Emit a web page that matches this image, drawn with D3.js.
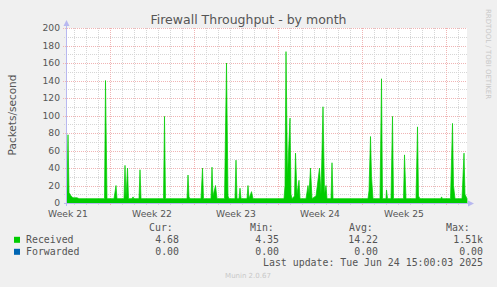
<!DOCTYPE html>
<html>
<head>
<meta charset="utf-8">
<script src="https://cdn.jsdelivr.net/npm/d3@7"></script>
<style>
  body { margin: 0; background: #f0f0f0; }
  svg { display: block; font-family: "DejaVu Sans", sans-serif; }
  .mono { font-family: "DejaVu Sans Mono", monospace; font-size: 9.9px; fill: #555; }
</style>
</head>
<body>
<svg id="chart" width="497" height="287"></svg>
<script>
// Chart values
const title = "Firewall Throughput - by month";
const yLabel = "Packets/second";
const yMax = 200;

// Time axis: graph window starts here and covers 800 hours (2 h per pixel)
const startTime = Date.UTC(2025, 4, 22, 10);
const spanHours = 800;

// Received packets/second, as [hours since start] and values
const hours = [0, 2, 4, 8, 12, 20, 24, 75, 77, 80, 94, 98, 100, 114, 116, 118, 121, 123,
  130, 132, 134, 144, 146, 148, 193, 195, 197, 240, 242, 244, 246, 268, 271, 273,
  288, 290, 292, 297, 300, 315, 319, 322, 324, 336, 338, 340, 344, 346, 348,
  360, 362, 364, 369, 372, 434, 436, 438, 441, 446, 448, 450, 455, 457, 460, 464, 466,
  478, 482, 484, 487, 490, 498, 505, 508, 512, 515, 518, 520, 528, 530, 532,
  602, 604, 607, 609, 612, 626, 629, 631, 638, 639, 641, 648, 651, 653,
  673, 675, 678, 698, 701, 703, 706, 748, 749, 751, 767, 771, 773, 776, 790, 794, 796, 800];
const received = [12, 78, 12, 8, 6, 6, 5, 5, 140, 5, 5, 20, 5, 5, 43, 6, 40, 5,
  5, 7, 5, 5, 38, 5, 5, 99, 5, 5, 32, 7, 5, 5, 40, 5,
  5, 41, 8, 20, 5, 5, 160, 8, 5, 5, 49, 5, 5, 17, 5,
  5, 20, 5, 13, 5, 5, 20, 173, 30, 97, 10, 5, 8, 57, 10, 26, 5,
  5, 20, 10, 40, 5, 8, 40, 10, 110, 10, 20, 5, 5, 46, 5,
  5, 14, 76, 30, 5, 5, 142, 5, 5, 15, 5, 5, 99, 5,
  5, 55, 5, 5, 87, 8, 5, 5, 7, 5, 5, 91, 20, 5, 5, 57, 10, 5];

// Legend
const seriesNames = ["Received", "Forwarded"];
const seriesColors = ["#00cc00", "#0066b3"];
const curValues = ["4.68", "0.00"];
const minValues = ["4.35", "0.00"];
const avgValues = ["14.22", "0.00"];
const maxValues = ["1.51k", "0.00"];
const lastUpdate = "Last update: Tue Jun 24 15:00:03 2025";
const version = "Munin 2.0.67";
const watermark = "RRDTOOL / TOBI OETIKER";

const HOUR = 3600e3;
const svg = d3.select("#chart");

const x = d3.scaleUtc()
  .domain([new Date(startTime), new Date(startTime + spanHours * HOUR)])
  .range([67, 467]);
const y = d3.scaleLinear().domain([0, yMax]).range([203, 28]);

// plot background
svg.append("rect")
  .attr("x", 67).attr("y", 28)
  .attr("width", 400).attr("height", 175)
  .attr("fill", "#fff");

const grid = svg.append("g").attr("shape-rendering", "crispEdges");
const [t0, t1] = x.domain();
const minorColor = "#d6d6d6", majorColor = "#f0b4b4";

// minor grid
grid.selectAll(".vmin")
  .data(d3.utcDay.range(t0, t1).filter(d => d.getUTCDay() !== 1))
  .join("line")
  .attr("x1", d => Math.round(x(d)) + 0.5).attr("x2", d => Math.round(x(d)) + 0.5)
  .attr("y1", 28).attr("y2", 205)
  .attr("stroke", minorColor).attr("stroke-dasharray", "1,1");
grid.selectAll(".hmin")
  .data(d3.range(10, yMax, 20))
  .join("line")
  .attr("x1", 64).attr("x2", 467)
  .attr("y1", d => Math.round(y(d)) + 0.5).attr("y2", d => Math.round(y(d)) + 0.5)
  .attr("stroke", minorColor).attr("stroke-dasharray", "1,1");

// major grid
grid.selectAll(".vmaj")
  .data(d3.utcMonday.range(t0, t1))
  .join("line")
  .attr("x1", d => Math.round(x(d)) + 0.5).attr("x2", d => Math.round(x(d)) + 0.5)
  .attr("y1", 28).attr("y2", 206)
  .attr("stroke", majorColor).attr("stroke-dasharray", "1,1");
grid.selectAll(".hmaj")
  .data(d3.range(20, yMax + 1, 20))
  .join("line")
  .attr("x1", 63).attr("x2", 467)
  .attr("y1", d => Math.round(y(d)) + 0.5).attr("y2", d => Math.round(y(d)) + 0.5)
  .attr("stroke", majorColor).attr("stroke-dasharray", "1,1");

// data area, with a thin outline so the narrow spikes stay visible
const points = hours.map((h, i) => ({ t: new Date(startTime + h * HOUR), v: received[i] }));
svg.append("path")
  .datum(points)
  .attr("fill", seriesColors[0])
  .attr("stroke", seriesColors[0])
  .attr("stroke-width", 0.7)
  .attr("stroke-linejoin", "miter")
  .attr("d", d3.area().x(d => x(d.t)).y0(y(0)).y1(d => y(d.v)));

// axes
const axisColor = "#b8b8f0";
svg.append("line").attr("x1", 66.5).attr("x2", 66.5).attr("y1", 24).attr("y2", 206)
  .attr("stroke", axisColor);
svg.append("line").attr("x1", 64).attr("x2", 469).attr("y1", 203.5).attr("y2", 203.5)
  .attr("stroke", axisColor);
svg.append("path").attr("d", "M63.5,26 L69.5,26 L66.5,20 Z").attr("fill", axisColor);
svg.append("path").attr("d", "M468,200.5 L468,206.5 L474,203.5 Z").attr("fill", axisColor);

// y tick labels
svg.append("g").selectAll("text")
  .data(d3.range(0, yMax + 1, 20))
  .join("text")
  .attr("x", 60).attr("y", d => y(d) + 3.0)
  .attr("text-anchor", "end")
  .attr("font-size", 9.2).attr("fill", "#555")
  .text(d => d);

// week labels, centred in each week
const weekFmt = d3.utcFormat("%V");
svg.append("g").selectAll("text")
  .data(d3.utcMonday.range(d3.utcMonday.offset(t0, -1), t1)
    .map(d => new Date(+d + 3.5 * 24 * HOUR))
    .filter(d => x(d) >= 66 && x(d) <= 467))
  .join("text")
  .attr("x", d => x(d)).attr("y", 216.5)
  .attr("text-anchor", "middle")
  .attr("font-size", 9.2).attr("fill", "#555")
  .text(d => "Week " + +weekFmt(new Date(+d - 3.5 * 24 * HOUR)));

// title and axis label
svg.append("text").attr("x", 248.5).attr("y", 24)
  .attr("text-anchor", "middle").attr("font-size", 12.5).attr("fill", "#555")
  .text(title);
svg.append("text")
  .attr("transform", "translate(16,115) rotate(-90)")
  .attr("text-anchor", "middle").attr("font-size", 10.5).attr("fill", "#555")
  .text(yLabel);
svg.append("text")
  .attr("transform", "translate(485.5,54) rotate(90)")
  .attr("text-anchor", "middle").attr("font-size", 7).attr("fill", "#c8c8c8")
  .text(watermark);

// legend
const headers = [["Cur:", 149], ["Min:", 250], ["Avg:", 349], ["Max:", 446]];
svg.append("g").selectAll("text")
  .data(headers)
  .join("text")
  .attr("class", "mono")
  .attr("x", d => d[1]).attr("y", 230.5)
  .text(d => d[0]);

const columns = [[curValues, 179], [minValues, 279], [avgValues, 378], [maxValues, 483]];
seriesNames.forEach((name, i) => {
  const rowY = 242.8 + i * 12;
  svg.append("rect")
    .attr("x", 14).attr("y", rowY - 6)
    .attr("width", 6).attr("height", 6)
    .attr("fill", seriesColors[i]);
  svg.append("text").attr("class", "mono")
    .attr("x", 26).attr("y", rowY).text(name);
  columns.forEach(([vals, right]) => {
    svg.append("text").attr("class", "mono")
      .attr("x", right).attr("y", rowY)
      .attr("text-anchor", "end")
      .text(vals[i]);
  });
});

svg.append("text").attr("class", "mono")
  .attr("x", 483).attr("y", 266.3)
  .attr("text-anchor", "end")
  .text(lastUpdate);

svg.append("text")
  .attr("x", 248).attr("y", 278)
  .attr("text-anchor", "middle").attr("font-size", 7).attr("fill", "#c8c8c8")
  .text(version);
</script>
</body>
</html>
